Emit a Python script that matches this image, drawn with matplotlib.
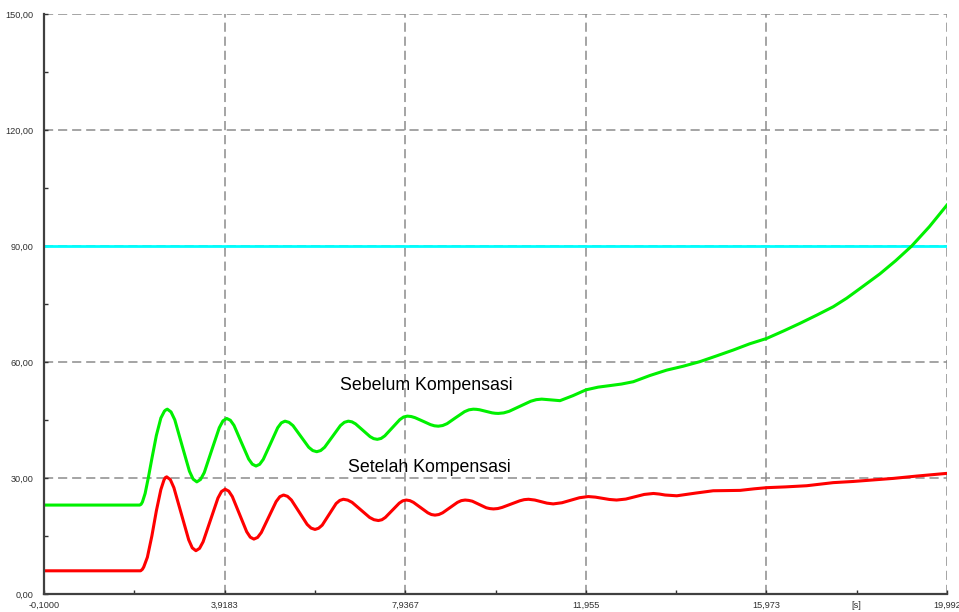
import matplotlib
matplotlib.use("Agg")
import matplotlib.pyplot as plt
from matplotlib.ticker import FixedLocator, FixedFormatter

plt.rcParams["font.family"] = ["Liberation Sans", "DejaVu Sans"]

# x ticks as shown by the simulator
x_ticks = [-0.1000, 3.9183, 7.9367, 11.955, 15.973, 19.992]
x_tick_labels = ["-0,1000", "3,9183", "7,9367", "11,955", "15,973", "19,992"]
x_minor = [1.909, 5.9275, 9.946, 13.964, 17.98]
x_minor_labels = ["", "", "", "", "[s]"]
y_ticks = [0, 30, 60, 90, 120, 150]
y_tick_labels = ["0,00", "30,00", "60,00", "90,00", "120,00", "150,00"]
y_minor = [15, 45, 75, 105, 135]

limit_value = 90.0

# before compensation (green)
t_before = [-0.1, 2.03, 2.06, 2.09, 2.15, 2.22, 2.30, 2.40, 2.50, 2.58, 2.61, 2.644,
            2.726, 2.81, 2.972, 3.136, 3.218, 3.30,
            3.383, 3.466, 3.632, 3.80, 3.882, 3.965,
            4.0465, 4.128, 4.29, 4.454, 4.5355, 4.617,
            4.698, 4.778, 4.94, 5.10, 5.181, 5.262,
            5.35, 5.44, 5.615, 5.79, 5.88, 5.968,
            6.056, 6.144, 6.32, 6.495, 6.583, 6.671,
            6.752, 6.832, 6.994, 7.155, 7.235, 7.316,
            7.40, 7.483, 7.65, 7.817, 7.90, 7.984,
            8.07, 8.156, 8.33, 8.50, 8.587, 8.673,
            8.77, 8.868, 9.06, 9.257, 9.355, 9.452,
            9.52, 9.59, 9.73, 9.87, 9.94, 10.008,
            10.129, 10.25, 10.49, 10.73, 10.853, 10.974,
            11.18, 11.381, 11.67, 11.96, 12.23, 12.494, 12.75, 13.012,
            13.38, 13.755, 14.12, 14.496, 14.87, 15.237, 15.6, 15.981,
            16.35, 16.721, 17.09, 17.462, 17.76, 18.056, 18.5, 18.85,
            19.207, 19.6, 19.992]
v_before = [23.0, 23.0, 23.2, 23.8, 26.0, 30.0, 35.0, 41.0, 45.5, 47.3, 47.6, 47.8,
            47.09, 45.05, 38.4, 31.75, 29.71, 29.0,
            29.62, 31.4, 37.2, 43.0, 44.78, 45.4,
            44.93, 43.6, 39.25, 34.9, 33.57, 33.1,
            33.54, 34.8, 38.9, 43.0, 44.26, 44.7,
            44.4, 43.55, 40.75, 37.95, 37.1, 36.8,
            37.1, 37.95, 40.75, 43.55, 44.4, 44.7,
            44.52, 44.0, 42.35, 40.7, 40.18, 40.0,
            40.23, 40.9, 43.0, 45.1, 45.77, 46.0,
            45.9, 45.6, 44.7, 43.8, 43.5, 43.4,
            43.57, 44.05, 45.6, 47.15, 47.63, 47.8,
            47.76, 47.65, 47.25, 46.85, 46.74, 46.7,
            46.84, 47.25, 48.55, 49.85, 50.26, 50.4,
            50.2, 50.0, 51.3, 52.8, 53.5, 53.9, 54.3, 54.9,
            56.5, 57.9, 58.9, 60.1, 61.6, 63.1, 64.7, 66.1,
            68.0, 70.0, 72.1, 74.3, 76.5, 79.0, 82.8, 86.2,
            90.0, 95.0, 100.6]

# after compensation (red)
t_after = [-0.1, 2.05, 2.09, 2.12, 2.20, 2.30, 2.40, 2.50, 2.57, 2.60, 2.63,
           2.711, 2.79, 2.955, 3.12, 3.199, 3.28,
           3.361, 3.44, 3.605, 3.77, 3.849, 3.93,
           4.01, 4.09, 4.25, 4.41, 4.49, 4.57,
           4.6525, 4.735, 4.90, 5.065, 5.1475, 5.23,
           5.3175, 5.405, 5.58, 5.755, 5.8425, 5.93,
           6.009, 6.09, 6.245, 6.40, 6.481, 6.56,
           6.6575, 6.755, 6.95, 7.145, 7.2425, 7.34,
           7.4175, 7.495, 7.65, 7.805, 7.8825, 7.96,
           8.04, 8.12, 8.28, 8.44, 8.52, 8.60,
           8.684, 8.77, 8.935, 9.10, 9.186, 9.27,
           9.349, 9.43, 9.585, 9.74, 9.821, 9.90,
           9.9975, 10.095, 10.29, 10.485, 10.5825, 10.68,
           10.82, 10.955, 11.09, 11.23, 11.425, 11.62, 11.815, 12.01,
           12.17, 12.325, 12.48, 12.64, 12.845, 13.05, 13.255, 13.46,
           13.59, 13.72, 13.98, 14.4, 14.79, 15.1, 15.39, 15.7, 15.98,
           16.4, 16.87, 17.46, 17.9, 18.35, 18.8, 19.32, 19.992]
v_after = [6.0, 6.0, 6.4, 7.0, 9.5, 15.0, 21.5, 27.0, 29.5, 30.1, 30.3,
           29.57, 27.5, 20.75, 14.0, 11.93, 11.2,
           11.8, 13.5, 19.15, 24.8, 26.5, 27.1,
           26.61, 25.2, 20.65, 16.1, 14.69, 14.2,
           14.63, 15.9, 19.9, 23.9, 25.17, 25.6,
           25.26, 24.3, 21.15, 18.0, 17.04, 16.7,
           17.0, 17.8, 20.6, 23.4, 24.2, 24.5,
           24.29, 23.7, 21.75, 19.8, 19.21, 19.0,
           19.2, 19.8, 21.65, 23.5, 24.1, 24.3,
           24.15, 23.7, 22.35, 21.0, 20.55, 20.4,
           20.55, 21.0, 22.35, 23.7, 24.15, 24.3,
           24.21, 24.0, 23.15, 22.3, 22.09, 22.0,
           22.1, 22.4, 23.25, 24.1, 24.4, 24.5,
           24.3, 23.9, 23.5, 23.3, 23.6, 24.25, 24.9, 25.2,
           25.05, 24.75, 24.45, 24.3, 24.55, 25.15, 25.75, 26.0,
           25.85, 25.6, 25.4, 26.1, 26.7, 26.75, 26.8, 27.2, 27.5,
           27.7, 28.0, 28.8, 29.1, 29.5, 29.9, 30.5, 31.2]

fig = plt.figure(figsize=(9.59, 6.12), dpi=100)
ax = fig.add_axes([44 / 959, 18 / 612, 903 / 959, 580 / 612])

ax.set_xlim(x_ticks[0], x_ticks[-1])
ax.set_ylim(y_ticks[0], y_ticks[-1])

grid_kw = dict(color="#8c8c8c", lw=1.1, dashes=(6, 3.2), zorder=1)
for x in x_ticks[1:]:
    ax.axvline(x, **grid_kw)
for y in y_ticks[1:]:
    ax.axhline(y, **grid_kw)

ax.axhline(limit_value, color="#00ffff", lw=2, zorder=2)
ax.plot(t_before, v_before, color="#00f000", lw=2.2, zorder=3,
        solid_joinstyle="round")
ax.plot(t_after, v_after, color="#ff0000", lw=2.2, zorder=3,
        solid_joinstyle="round")

ax.text(6.49, 53.8, "Sebelum Kompensasi", fontsize=12.8, va="center", ha="left")
ax.text(6.66, 32.8, "Setelah Kompensasi", fontsize=12.8, va="center", ha="left")

ax.xaxis.set_major_locator(FixedLocator(x_ticks))
ax.xaxis.set_major_formatter(FixedFormatter(x_tick_labels))
ax.xaxis.set_minor_locator(FixedLocator(x_minor))
ax.xaxis.set_minor_formatter(FixedFormatter(x_minor_labels))
ax.yaxis.set_major_locator(FixedLocator(y_ticks))
ax.yaxis.set_major_formatter(FixedFormatter(y_tick_labels))
ax.yaxis.set_minor_locator(FixedLocator(y_minor))

ax.tick_params(which="both", direction="in", colors="#303030", labelsize=6.6,
               length=3, width=1)
ax.tick_params(axis="x", which="both", pad=5)
ax.tick_params(axis="y", which="both", pad=7.5)

for side in ["top", "right"]:
    ax.spines[side].set_visible(False)
for side in ["left", "bottom"]:
    ax.spines[side].set_color("#404040")
    ax.spines[side].set_linewidth(1.6)
    ax.spines[side].set_zorder(4)

fig.savefig("out.png", dpi=100, facecolor="white")
